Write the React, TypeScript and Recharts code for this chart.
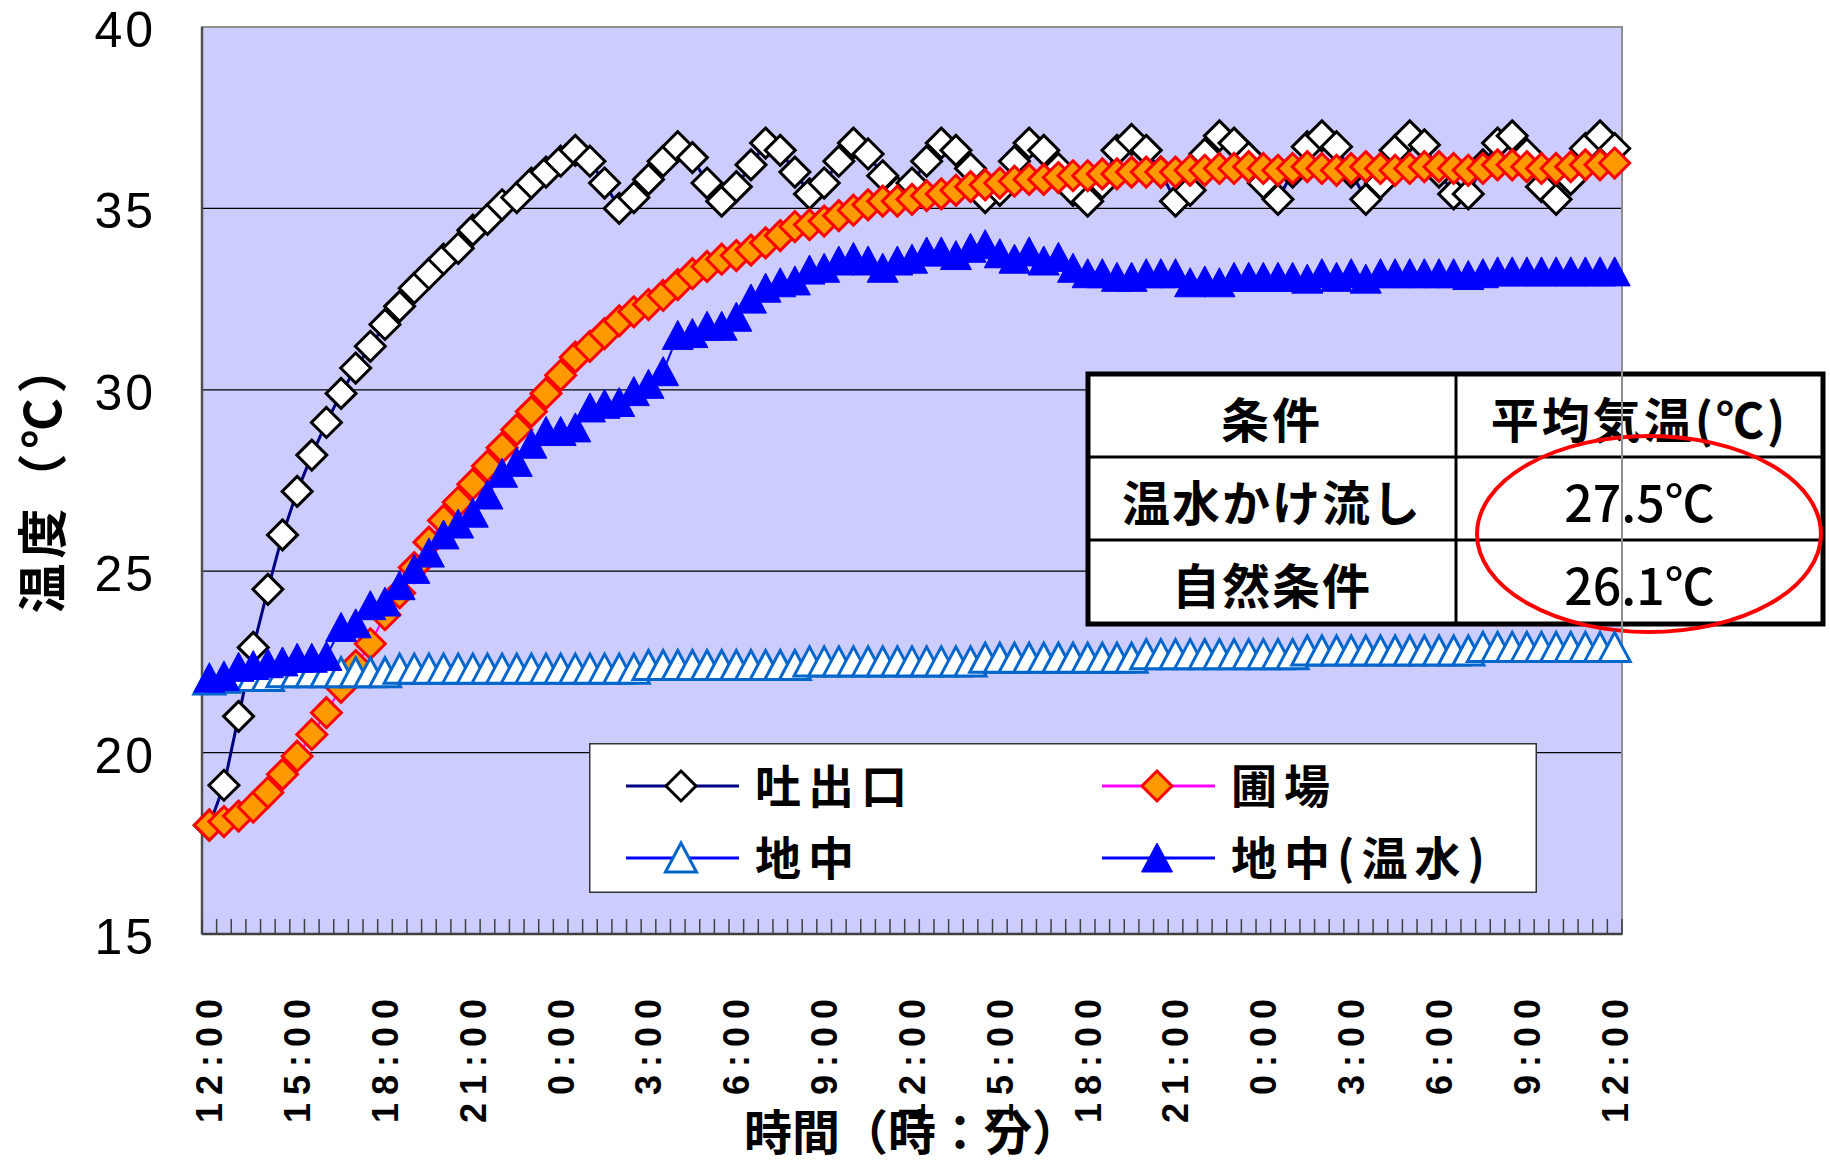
import React from "react";
import {
    LineChart, Line, XAxis, YAxis, CartesianGrid,
    ReferenceArea, Legend, Customized
} from "recharts";

// x: 30-minute readings from 12:00 to 12:00 two days later (97 points)
const timeLabels = [
    "12:00", "15:00", "18:00", "21:00", "0:00", "3:00", "6:00", "9:00", "12:00",
    "15:00", "18:00", "21:00", "0:00", "3:00", "6:00", "9:00", "12:00",
];
const yTicks = [15, 20, 25, 30, 35, 40];

const seriesNames = ["吐出口", "圃場", "地中", "地中(温水)"];

// 吐出口
const outlet = [
    18.0, 19.1, 21.0, 22.9, 24.5, 26.0, 27.2, 28.2, 29.1, 29.9,
    30.6, 31.2, 31.8, 32.3, 32.8, 33.2, 33.6, 33.9, 34.4, 34.7,
    35.1, 35.3, 35.7, 36.0, 36.3, 36.6, 36.3, 35.7, 35.0, 35.3,
    35.8, 36.3, 36.7, 36.4, 35.7, 35.2, 35.6, 36.2, 36.8, 36.6,
    36.0, 35.4, 35.7, 36.3, 36.8, 36.5, 35.9, 35.45, 35.7, 36.3,
    36.8, 36.6, 36.1, 35.3, 35.5, 36.3, 36.8, 36.6, 36.1, 35.5,
    35.2, 35.7, 36.6, 36.9, 36.6, 36.0, 35.2, 35.5, 36.5, 37.0,
    36.8, 36.4, 35.7, 35.25, 36.0, 36.7, 37.0, 36.7, 36.0, 35.25,
    35.7, 36.6, 37.0, 36.75, 36.0, 35.4, 35.4, 36.2, 36.8, 37.0,
    36.5, 35.6, 35.25, 35.8, 36.65, 37.0, 36.65,
];

// 圃場
const field = [
    18.0, 18.1, 18.25, 18.5, 18.9, 19.4, 19.9, 20.5, 21.1, 21.8,
    22.4, 23.0, 23.8, 24.4, 25.1, 25.8, 26.4, 26.9, 27.4, 27.9,
    28.4, 28.9, 29.4, 29.9, 30.4, 30.9, 31.2, 31.55, 31.9, 32.15,
    32.35, 32.6, 32.9, 33.2, 33.4, 33.6, 33.7, 33.85, 34.05, 34.25,
    34.5, 34.55, 34.65, 34.8, 34.95, 35.1, 35.2, 35.2, 35.25, 35.35,
    35.4, 35.5, 35.6, 35.65, 35.7, 35.75, 35.8, 35.8, 35.85, 35.9,
    35.9, 35.95, 35.95, 36.0, 36.0, 36.0, 36.0, 36.05, 36.05, 36.1,
    36.1, 36.15, 36.1, 36.05, 36.1, 36.15, 36.1, 36.05, 36.1, 36.15,
    36.1, 36.05, 36.1, 36.15, 36.15, 36.1, 36.05, 36.1, 36.2, 36.2,
    36.15, 36.1, 36.1, 36.15, 36.2, 36.2, 36.25,
];

// 地中
const soil = [
    22.0, 22.05, 22.1, 22.1, 22.1, 22.2, 22.2, 22.2, 22.2, 22.2,
    22.2, 22.2, 22.2, 22.3, 22.3, 22.3, 22.3, 22.3, 22.3, 22.3,
    22.3, 22.3, 22.3, 22.3, 22.3, 22.3, 22.3, 22.3, 22.3, 22.3,
    22.4, 22.4, 22.4, 22.4, 22.4, 22.4, 22.4, 22.4, 22.4, 22.4,
    22.4, 22.5, 22.5, 22.5, 22.5, 22.5, 22.5, 22.5, 22.5, 22.5,
    22.5, 22.5, 22.5, 22.6, 22.6, 22.6, 22.6, 22.6, 22.6, 22.6,
    22.6, 22.6, 22.6, 22.6, 22.7, 22.7, 22.7, 22.7, 22.7, 22.7,
    22.7, 22.7, 22.7, 22.7, 22.7, 22.8, 22.8, 22.8, 22.8, 22.8,
    22.8, 22.8, 22.8, 22.8, 22.8, 22.8, 22.8, 22.9, 22.9, 22.9,
    22.9, 22.9, 22.9, 22.9, 22.9, 22.9, 22.9,
];

// 地中(温水)
const soilWarm = [
    22.05, 22.1, 22.35, 22.4, 22.45, 22.5, 22.6, 22.6, 22.65, 23.45,
    23.55, 24.05, 24.15, 24.6, 25.05, 25.5, 26.0, 26.3, 26.6, 27.1,
    27.7, 28.0, 28.5, 28.85, 28.85, 28.95, 29.5, 29.6, 29.65, 29.95,
    30.15, 30.5, 31.5, 31.55, 31.75, 31.75, 32.0, 32.5, 32.8, 32.95,
    33.0, 33.3, 33.35, 33.55, 33.65, 33.55, 33.35, 33.55, 33.6, 33.8,
    33.8, 33.7, 33.9, 34.0, 33.75, 33.6, 33.8, 33.55, 33.65, 33.35,
    33.2, 33.2, 33.1, 33.1, 33.2, 33.2, 33.2, 32.95, 33.0, 32.95,
    33.1, 33.1, 33.1, 33.1, 33.1, 33.05, 33.2, 33.1, 33.2, 33.05,
    33.2, 33.2, 33.2, 33.2, 33.2, 33.2, 33.15, 33.2, 33.25, 33.25,
    33.25, 33.25, 33.25, 33.25, 33.25, 33.25, 33.25,
];

const tableHeader = ["条件", "平均気温(℃)"];
const conditions = ["温水かけ流し", "自然条件"];
const avgTemps = ["27.5℃", "26.1℃"];

const data = outlet.map((v, i) => ({
    idx: i,
    outlet: v,
    field: field[i],
    soil: soil[i],
    soilWarm: soilWarm[i],
}));

const minorTicks = data.map((d) => d.idx - 0.5).concat([data.length - 0.5]);
const majorTicks = timeLabels.map((_, k) => k * 6);

const JP = "'Noto Sans CJK JP', 'Noto Sans', sans-serif";

type Shape = "diamond" | "triangle";
const styles = [
    { key: "outlet", line: "#000080", width: 3, shape: "diamond" as Shape, fill: "#FFFFFF", stroke: "#000000", sw: 3 },
    { key: "field", line: "#FF00FF", width: 2, shape: "diamond" as Shape, fill: "#FF9900", stroke: "#FF0000", sw: 3 },
    { key: "soil", line: "#0000FF", width: 2, shape: "triangle" as Shape, fill: "#FFFFFF", stroke: "#0066CC", sw: 3 },
    { key: "soilWarm", line: "#0000FF", width: 2, shape: "triangle" as Shape, fill: "#0000FF", stroke: "#0000FF", sw: 1 },
];

const markerPath = (shape: Shape, cx: number, cy: number) =>
    shape === "diamond"
        ? `M${cx},${cy - 15}L${cx + 15},${cy}L${cx},${cy + 15}L${cx - 15},${cy}Z`
        : `M${cx},${cy - 15}L${cx + 15.5},${cy + 14}L${cx - 15.5},${cy + 14}Z`;

const makeDot = (s: any) => (p: any) => (
    <path
        key={`${s.key}-${p.index}`}
        d={markerPath(s.shape, p.cx, p.cy)}
        fill={s.fill}
        stroke={s.stroke}
        strokeWidth={s.sw}
    />
);

const XTick = (props: any) => {
    const { x, y, payload } = props;
    const v = payload.value;
    if (!Number.isInteger(v)) {
        return <line x1={x} x2={x} y1={y} y2={y - 15} stroke="#404040" strokeWidth={1.5} />;
    }
    const ty = y + 57;
    return (
        <text
            x={x} y={ty} transform={`rotate(-90 ${x} ${ty})`}
            textAnchor="end" dy="0.36em" fontSize={36} fontWeight="bold"
            fontFamily="'Liberation Sans', Arial, sans-serif" letterSpacing={8} fill="#000"
        >
            {timeLabels[v / 6]}
        </text>
    );
};

const YTick = (props: any) => {
    const { x, y, payload } = props;
    return (
        <text x={x} y={y} textAnchor="end" dy="0.4em" fontSize={50}
            fontFamily="'Liberation Sans', Arial, sans-serif" letterSpacing={3} fill="#000">
            {payload.value}
        </text>
    );
};

const LegendBox = () => {
    const cols = [37, 513];
    const rows = [43, 115];
    return (
        <svg width={948} height={150} style={{ display: "block" }}>
            <rect x={0.75} y={0.75} width={946.5} height={148.5} fill="#FFFFFF" stroke="#333" strokeWidth={1.5} />
            {styles.map((s, i) => {
                const x0 = cols[i % 2];
                const y0 = rows[Math.floor(i / 2)];
                return (
                    <g key={s.key}>
                        <line x1={x0} x2={x0 + 113} y1={y0} y2={y0} stroke={s.line} strokeWidth={3} />
                        <path d={markerPath(s.shape, x0 + 55, y0)} fill={s.fill} stroke={s.stroke} strokeWidth={s.sw} />
                        <text x={x0 + 129} y={y0} dy="0.36em" fontSize={46} fontWeight={700}
                            fontFamily={JP} letterSpacing={7} fill="#000">
                            {seriesNames[i]}
                        </text>
                    </g>
                );
            })}
        </svg>
    );
};

const Annotations = () => {
    const xs = [1088, 1456, 1823];
    const ys = [374, 457, 540, 624];
    const c1 = (xs[0] + xs[1]) / 2;
    const c2 = (xs[1] + xs[2]) / 2;
    const txt = { fontSize: 48, fontWeight: 700, fontFamily: JP, fill: "#000", textAnchor: "middle" as const };
    return (
        <g>
            <text x={42} y={476} transform="rotate(-90 42 476)" textAnchor="middle" dy="0.38em"
                fontSize={50} fontWeight={700} fontFamily={JP} letterSpacing={5} fill="#000">
                温度（℃）
            </text>
            <text x={912} y={1150} textAnchor="middle" fontSize={48} fontWeight={700} fontFamily={JP} fill="#000">
                時間（時：分）
            </text>

            <rect x={xs[0]} y={ys[0]} width={xs[2] - xs[0]} height={ys[3] - ys[0]} fill="#FFFFFF" />
            <line x1={xs[1]} x2={xs[1]} y1={ys[0]} y2={ys[3]} stroke="#000" strokeWidth={3} />
            <line x1={xs[0]} x2={xs[2]} y1={ys[1]} y2={ys[1]} stroke="#000" strokeWidth={3} />
            <line x1={xs[0]} x2={xs[2]} y1={ys[2]} y2={ys[2]} stroke="#000" strokeWidth={3} />
            <rect x={xs[0]} y={ys[0]} width={xs[2] - xs[0]} height={ys[3] - ys[0]} fill="none" stroke="#000" strokeWidth={5} />

            <text x={c1} y={(ys[0] + ys[1]) / 2 + 4} dy="0.38em" letterSpacing={3} {...txt}>{tableHeader[0]}</text>
            <text x={c2} y={(ys[0] + ys[1]) / 2 + 4} dy="0.38em" letterSpacing={3} {...txt}>{tableHeader[1]}</text>
            {conditions.map((c, i) => (
                <text key={c} x={c1} y={(ys[i + 1] + ys[i + 2]) / 2 + 4} dy="0.38em" letterSpacing={2} {...txt}>{c}</text>
            ))}
            {avgTemps.map((t, i) => (
                <text key={t} x={c2} y={(ys[i + 1] + ys[i + 2]) / 2 + 4} dy="0.38em" {...txt} fontSize={50} fontWeight={500}>{t}</text>
            ))}

            <ellipse cx={1649} cy={534} rx={172} ry={98} fill="none" stroke="#FF0000" strokeWidth={4} />
        </g>
    );
};

export default function App() {
    return (
        <div style={{ position: "absolute", left: 0, top: 0, width: 1830, height: 1163, background: "#fff", fontFamily: JP }}>
            <LineChart
                width={1830} height={1163} data={data}
                margin={{ top: 27, right: 208, bottom: 0, left: 40 }}
            >
                <CartesianGrid vertical={false} fill="#CCCCFF" stroke="#000" strokeWidth={1.2} />
                <XAxis
                    dataKey="idx" type="number" domain={[-0.5, 96.5]}
                    ticks={[...minorTicks, ...majorTicks]} interval={0}
                    tick={<XTick />} tickLine={false} tickSize={0} tickMargin={0}
                    axisLine={{ stroke: "#404040", strokeWidth: 2.5 }} height={229}
                />
                <YAxis
                    type="number" domain={[15, 40]} ticks={yTicks} interval={0}
                    tick={<YTick />} tickLine={false} tickSize={0} tickMargin={46}
                    axisLine={{ stroke: "#505050", strokeWidth: 2.5 }} width={162}
                />
                <ReferenceArea x1={-0.5} x2={96.5} y1={15} y2={40} fill="none" stroke="#909090" strokeWidth={2} />
                {styles.map((s, i) => (
                    <Line
                        key={s.key} name={seriesNames[i]} dataKey={s.key} type="linear"
                        stroke={s.line} strokeWidth={s.width}
                        dot={makeDot(s)} activeDot={false} isAnimationActive={false}
                    />
                ))}
                <Legend
                    layout="horizontal" verticalAlign="middle" align="center"
                    content={<LegendBox />}
                    wrapperStyle={{ left: 589, top: 743, width: 948, height: 150 }}
                />
                <Customized component={<Annotations />} />
            </LineChart>
        </div>
    );
}
